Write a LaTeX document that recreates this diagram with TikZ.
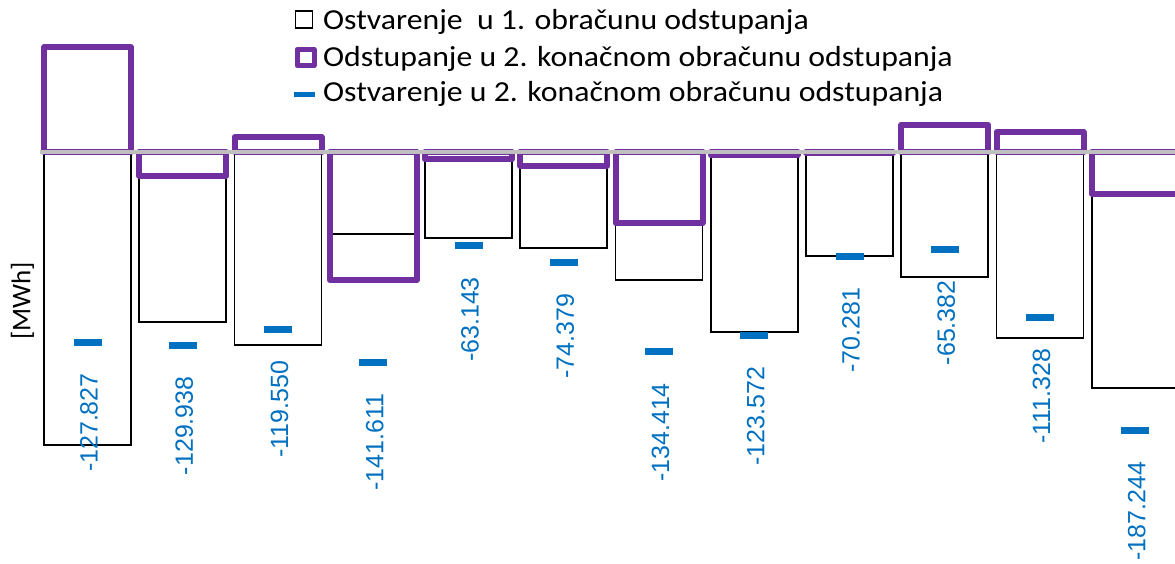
\documentclass[tikz,border=0pt]{standalone}
\usepackage{fontspec}
\setmainfont{Carlito}
\newfontfamily\legfont[FakeStretch=1.096]{Carlito}
\newfontfamily\datafont{Liberation Sans}
\definecolor{obrpurple}{HTML}{7030A0}
\definecolor{obrblue}{HTML}{0070C0}
\definecolor{axgray}{HTML}{BFBFBF}

\begin{document}
\begin{tikzpicture}[x=1pt,y=1pt,
  prvi/.style={black, line width=1.8pt},
  drugi/.style={obrpurple, line width=6pt, line join=round},
  ostv/.style={obrblue, line width=7pt},
  legtxt/.style={anchor=base west, inner sep=0, font=\legfont\fontsize{29}{29}\selectfont},
  oznaka/.style={obrblue, rotate=90, anchor=east, inner sep=0, font=\datafont\fontsize{25}{25}\selectfont}]
\useasboundingbox (0,-411) rectangle (1175,152);
% legenda
\draw[prvi, line width=1.5pt] (295.5,124) rectangle (312.5,141);
\draw[drugi, line width=5pt] (297,86.5) rectangle (314,102.5);
\draw[ostv, line width=5pt] (294,58) -- (315,58);
\node[legtxt] (leg1) at (323,122.5) {Ostvarenje\ \ u 1. obračunu odstupanja};
\node[legtxt] (leg2) at (323,85.5) {Odstupanje u 2. konačnom obračunu odstupanja};
\node[legtxt] (leg3) at (323,51) {Ostvarenje u 2. konačnom obračunu odstupanja};
\node[rotate=90, inner sep=0, font=\fontsize{27}{27}\selectfont] (jed) at (22.5,-149) {[MWh]};
% stupci
\begin{scope}[yscale=1.487]
\foreach \i/\a/\b/\c in {1/197.0/70.3/-127.827, 2/114.3/-16.1/-129.938, 3/129.8/10.1/-119.550,
  4/55.4/-86.1/-141.611, 5/57.6/-4.9/-63.143, 6/64.8/-9.4/-74.379, 7/86.1/-47.7/-134.414,
  8/121.3/-2.2/-123.572, 9/69.9/-0.7/-70.281, 10/83.8/18.4/-65.382, 11/125.3/13.4/-111.328,
  12/158.9/-28.0/-187.244} {
  \pgfmathsetmacro{\xc}{87.5+95.25*(\i-1)}
  \draw[prvi] (\xc-43.5,0) rectangle (\xc+43.5,-\a);
  \draw[drugi] (\xc-43.5,0) rectangle (\xc+43.5,\b);
  \draw[ostv] (\xc-14,\c) -- (\xc+14,\c);
  \node[oznaka] (lab\i) at (\xc+1.5,\c-20.85) {\c};
}
\end{scope}
\draw[axgray, line width=4pt] (40,0) -- (1175,0);
\end{tikzpicture}
\end{document}
